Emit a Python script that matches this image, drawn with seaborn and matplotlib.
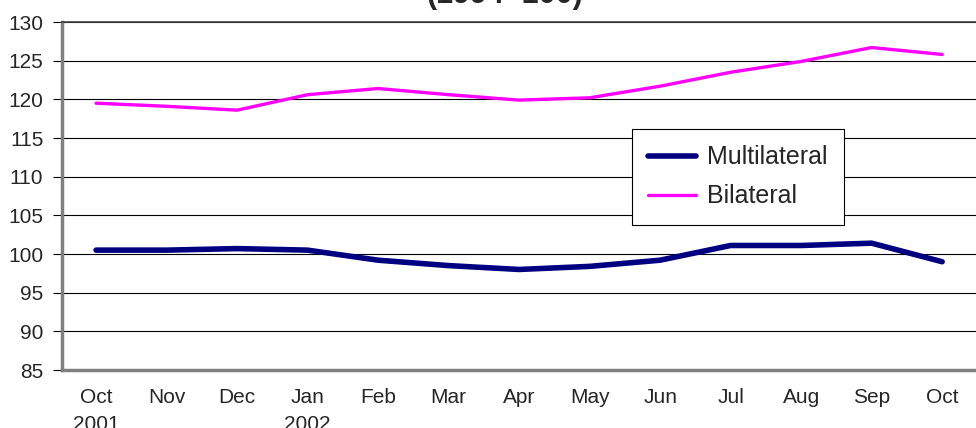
import numpy as np
import pandas as pd
import matplotlib
matplotlib.use("Agg")
import matplotlib.pyplot as plt
import seaborn as sns

# data (index, 1994=100)
months = ["Oct\n2001", "Nov", "Dec", "Jan\n2002", "Feb", "Mar", "Apr",
          "May", "Jun", "Jul", "Aug", "Sep", "Oct"]
multilateral = [100.5, 100.5, 100.7, 100.5, 99.2, 98.5, 98.0,
                98.4, 99.2, 101.1, 101.1, 101.4, 99.0]
bilateral = [119.5, 119.1, 118.6, 120.6, 121.4, 120.6, 119.9,
             120.2, 121.7, 123.5, 124.9, 126.7, 125.8]

df = pd.DataFrame({
    "pos": np.arange(len(months)),
    "Multilateral": multilateral,
    "Bilateral": bilateral,
})

sns.set_theme(style="white")
plt.rcParams["font.family"] = ["Liberation Sans", "DejaVu Sans"]

fig = plt.figure(figsize=(9.76, 4.28), dpi=100)
ax = fig.add_axes([62 / 976, 1 - 370 / 428, 1 - 62 / 976, 348 / 428])

sns.lineplot(ax=ax, data=df, x="pos", y="Multilateral", color="#000080",
             linewidth=4.0, label="Multilateral")
sns.lineplot(ax=ax, data=df, x="pos", y="Bilateral", color="#FF00FF",
             linewidth=2.4, label="Bilateral")

ax.set_ylim(85, 130)
ax.set_yticks(np.arange(85, 131, 5))
ax.set_xlim(-0.483, 12.48)
ax.set_xticks(df["pos"])
ax.set_xticklabels(months, linespacing=1.55)
ax.set_xlabel("")
ax.set_ylabel("")

ax.yaxis.grid(True, color="black", linewidth=0.8)
ax.xaxis.grid(False)
ax.tick_params(axis="y", left=True, length=6.5, width=0.8, color="black",
               labelsize=15, pad=7)
ax.tick_params(axis="x", bottom=False, labelsize=15, pad=7)
for side in ["left", "bottom"]:
    ax.spines[side].set_color("#808080")
    ax.spines[side].set_linewidth(2.5)
ax.spines["top"].set_color("#404040")
ax.spines["top"].set_linewidth(1.2)
ax.spines["right"].set_visible(False)

leg = ax.legend(loc="upper left", bbox_to_anchor=(0.6236, 0.6925),
                borderaxespad=0, fontsize=18, frameon=True, fancybox=False,
                framealpha=1, edgecolor="black", handlelength=1.9,
                handletextpad=0.45, labelspacing=0.6, borderpad=0.65)
leg.get_frame().set_linewidth(0.8)

fig.text(0.517, 1 - 10 / 428, "(1994=100)", ha="center", va="bottom",
         fontsize=22, fontweight="bold")

fig.savefig("out.png", dpi=100)
